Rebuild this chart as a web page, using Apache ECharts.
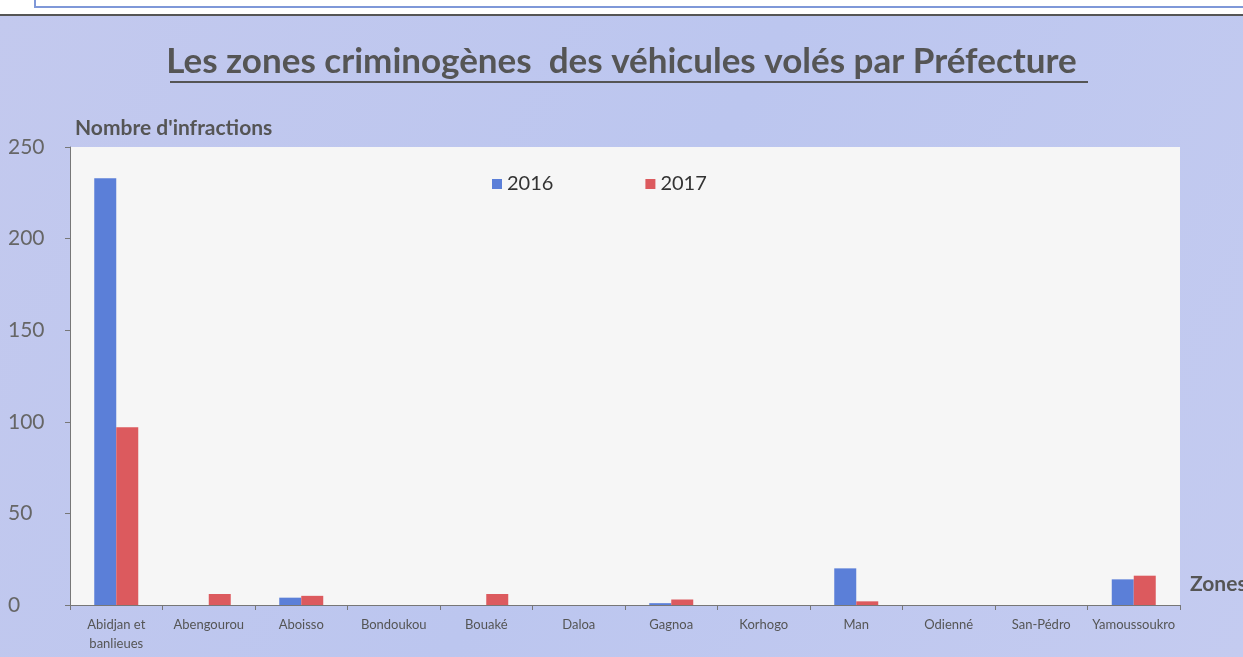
<!DOCTYPE html>
<html>
<head>
<meta charset="utf-8">
<script src="https://cdn.jsdelivr.net/npm/echarts@6/dist/echarts.min.js"></script>
<style>
  html, body { margin: 0; padding: 0; background: #fff; }
  #main { width: 1243px; height: 657px; }
</style>
</head>
<body>
<div id="main"></div>
<script>
// données
const zones = ['Abidjan et\nbanlieues', 'Abengourou', 'Aboisso', 'Bondoukou', 'Bouaké', 'Daloa',
  'Gagnoa', 'Korhogo', 'Man', 'Odienné', 'San-Pédro', 'Yamoussoukro'];
const v2016 = [233, 0, 4, 0, 0, 0, 1, 0, 20, 0, 0, 14];
const v2017 = [97, 6, 5, 0, 6, 0, 3, 0, 2, 0, 0, 16];
const yTicks = [0, 250, 50]; // min, max, pas

const font = 'Lato, "Open Sans", sans-serif';
const el = document.getElementById('main');
const myChart = echarts.init(el);

const option = {
  backgroundColor: {
    type: 'linear', x: 0, y: 0, x2: 1, y2: 1,
    colorStops: [
      { offset: 0, color: '#c3c9ee' },
      { offset: 0.5, color: '#bcc6ef' },
      { offset: 1, color: '#c4cbf0' }
    ]
  },
  color: ['#5b7fd8', '#dc5a5e'],
  textStyle: { fontFamily: font },
  title: {
    text: 'Les zones criminogènes  des véhicules volés par Préfecture',
    left: 'center',
    top: 39,
    textStyle: { fontFamily: font, fontSize: 35, fontWeight: 'bold', color: '#555' }
  },
  graphic: [
    // bande blanche et reste du tableau en haut
    { type: 'rect', shape: { x: 0, y: 0, width: 1243, height: 15 }, style: { fill: '#fff' } },
    { type: 'rect', shape: { x: 35, y: -6, width: 1300, height: 13 },
      style: { fill: 'none', stroke: '#7f98d8', lineWidth: 2 } },
    { type: 'line', shape: { x1: 0, y1: 15, x2: 1243, y2: 15 }, style: { stroke: '#555', lineWidth: 2 } },
    // soulignement du titre
    { type: 'line', shape: { x1: 170, y1: 82, x2: 1088, y2: 82 }, style: { stroke: '#555', lineWidth: 2 } }
  ],
  legend: {
    left: 487,
    top: 169,
    itemWidth: 10,
    itemHeight: 10,
    itemGap: 92,
    icon: 'rect',
    textStyle: { fontFamily: font, fontSize: 20, color: '#333' },
    data: ['2016', '2017']
  },
  grid: {
    left: 70, right: 63, top: 147, bottom: 52,
    outerBoundsMode: 'none',
    containLabel: false,
    show: true,
    backgroundColor: '#f6f6f6',
    borderWidth: 0
  },
  xAxis: {
    type: 'category',
    data: zones,
    name: 'Zones',
    nameLocation: 'end',
    nameGap: 10,
    nameTextStyle: { fontFamily: font, fontSize: 21, fontWeight: 'bold', color: '#555',
      align: 'left', verticalAlign: 'bottom', padding: [0, 0, 10, 0] },
    axisLine: { lineStyle: { color: '#777', width: 1 } },
    axisTick: { show: true, alignWithLabel: false, length: 5, lineStyle: { color: '#777' } },
    axisLabel: { fontFamily: font, fontSize: 13, color: '#555', margin: 10, lineHeight: 19, interval: 0 }
  },
  yAxis: {
    type: 'value',
    min: yTicks[0],
    max: yTicks[1],
    interval: yTicks[2],
    name: "Nombre d'infractions",
    nameLocation: 'end',
    nameGap: 8,
    nameTextStyle: { fontFamily: font, fontSize: 21, fontWeight: 'bold', color: '#555',
      align: 'left', padding: [0, 0, 0, 5] },
    axisLine: { show: true, lineStyle: { color: '#777' } },
    axisTick: { show: true, length: 5, lineStyle: { color: '#777' } },
    splitLine: { show: false },
    axisLabel: { fontFamily: font, fontSize: 21, color: '#666', margin: 10, align: 'left',
      padding: [0, 0, 0, -52] }
  },
  series: [
    { name: '2016', type: 'bar', data: v2016, barWidth: 22, barGap: '0%' },
    { name: '2017', type: 'bar', data: v2017, barWidth: 22 }
  ]
};
myChart.setOption(option);
</script>
</body>
</html>
